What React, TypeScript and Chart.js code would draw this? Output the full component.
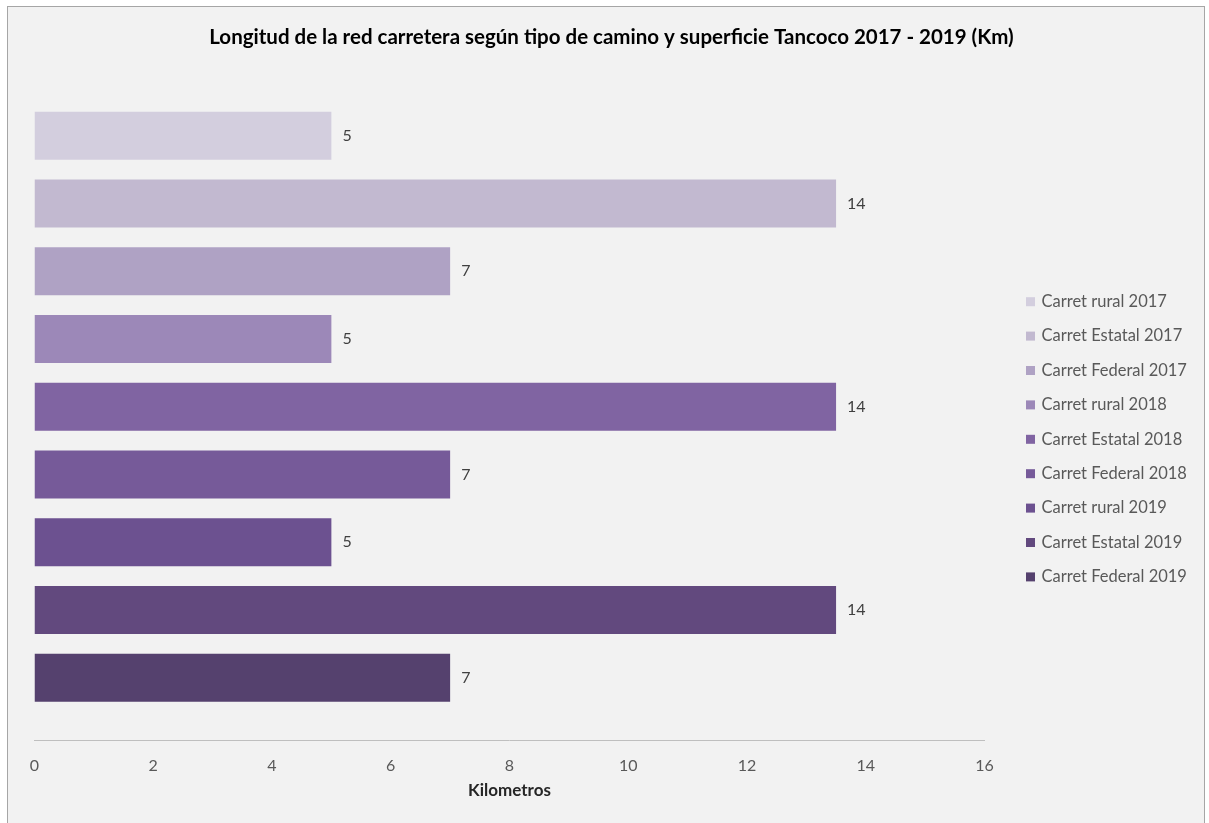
import React, { useEffect, useRef } from 'react';
import { Chart, registerables } from 'chart.js';

Chart.register(...registerables);

const titleText = 'Longitud de la red carretera según tipo de camino y superficie Tancoco 2017 - 2019 (Km)';
const axisTitle = 'Kilometros';
const categories = ['Tancoco'];
const seriesLabels = [
  'Carret rural 2017',
  'Carret Estatal 2017',
  'Carret Federal 2017',
  'Carret rural 2018',
  'Carret Estatal 2018',
  'Carret Federal 2018',
  'Carret rural 2019',
  'Carret Estatal 2019',
  'Carret Federal 2019',
];
const seriesValues = [5, 13.5, 7, 5, 13.5, 7, 5, 13.5, 7];
const seriesColors = [
  '#d3cede',
  '#c2b9d0',
  '#afa2c4',
  '#9c88b8',
  '#8064a2',
  '#765a99',
  '#6c5190',
  '#62497e',
  '#55416e',
];
const xMin = 0;
const xMax = 16;
const xStep = 2;

const FONT = 'Lato, "Open Sans", sans-serif';

const valueLabelPlugin = {
  id: 'valueLabels',
  afterDatasetsDraw(chart: any) {
    const ctx = chart.ctx;
    ctx.save();
    ctx.font = `16px ${FONT}`;
    ctx.fillStyle = '#404040';
    ctx.textBaseline = 'middle';
    ctx.textAlign = 'left';
    chart.data.datasets.forEach((ds: any, i: number) => {
      const meta = chart.getDatasetMeta(i);
      meta.data.forEach((bar: any, j: number) => {
        const v = ds.data[j];
        ctx.fillText(String(Math.round(v)), bar.x + 11, bar.y);
      });
    });
    ctx.restore();
  },
};

const customLegendPlugin = {
  id: 'customLegend',
  afterDraw(chart: any) {
    const ctx = chart.ctx;
    const x0 = 1018;
    const y0 = 294.7;
    const pitch = 34.4;
    ctx.save();
    ctx.font = `16.5px ${FONT}`;
    ctx.textBaseline = 'middle';
    ctx.textAlign = 'left';
    chart.data.datasets.forEach((ds: any, i: number) => {
      const y = y0 + i * pitch;
      ctx.fillStyle = ds.backgroundColor;
      ctx.fillRect(x0, y - 4.5, 9, 9);
      ctx.fillStyle = '#595959';
      ctx.fillText(ds.label, x0 + 15.5, y);
    });
    ctx.restore();
  },
};

export default function App() {
  const ref = useRef<HTMLCanvasElement | null>(null);

  useEffect(() => {
    if (!ref.current) return;
    const chart = new Chart(ref.current, {
      type: 'bar',
      data: {
        labels: categories,
        datasets: seriesLabels.map((label, i) => ({
          label,
          data: [seriesValues[i]],
          backgroundColor: seriesColors[i],
          borderWidth: 0,
          categoryPercentage: 0.915,
          barPercentage: 0.708,
        })),
      },
      options: {
        indexAxis: 'y',
        responsive: true,
        maintainAspectRatio: false,
        animation: false,
        layout: {
          padding: { left: 11, right: 0, top: 0, bottom: 16 },
        },
        plugins: {
          legend: { display: false },
          tooltip: { enabled: false },
          title: {
            display: true,
            text: titleText,
            color: '#000000',
            font: { family: FONT, size: 20.5, weight: 'bold' },
            padding: { top: 17.7, bottom: 24.3 },
          },
        },
        scales: {
          x: {
            type: 'linear',
            min: xMin,
            max: xMax,
            afterFit: (s: any) => {
              s.height = 61;
            },
            ticks: {
              stepSize: xStep,
              color: '#595959',
              font: { family: FONT, size: 16 },
              padding: 16.4,
            },
            grid: { display: false, drawTicks: false },
            border: { display: true, color: '#bfbfbf', width: 1 },
            title: {
              display: true,
              text: axisTitle,
              color: '#262626',
              font: { family: FONT, size: 17, weight: 'bold' },
              padding: { top: 0, bottom: 0 },
            },
          },
          y: {
            type: 'category',
            position: 'left',
            afterFit: (s: any) => {
              s.width = 15.5;
            },
            ticks: { display: false },
            grid: { display: false, drawTicks: false },
            border: { display: false },
          },
          y2: {
            type: 'category',
            position: 'right',
            afterFit: (s: any) => {
              s.width = 219.5;
            },
            ticks: { display: false },
            grid: { display: false, drawTicks: false },
            border: { display: false },
          },
        },
      },
      plugins: [valueLabelPlugin, customLegendPlugin],
    });
    return () => chart.destroy();
  }, []);

  return (
    <div
      style={{
        position: 'absolute',
        left: 7,
        top: 6,
        width: 1196,
        height: 830,
        border: '1px solid #a6a6a6',
        background: '#f2f2f2',
      }}
    >
      <div style={{ position: 'relative', width: 1196, height: 810 }}>
        <canvas ref={ref} />
      </div>
    </div>
  );
}
